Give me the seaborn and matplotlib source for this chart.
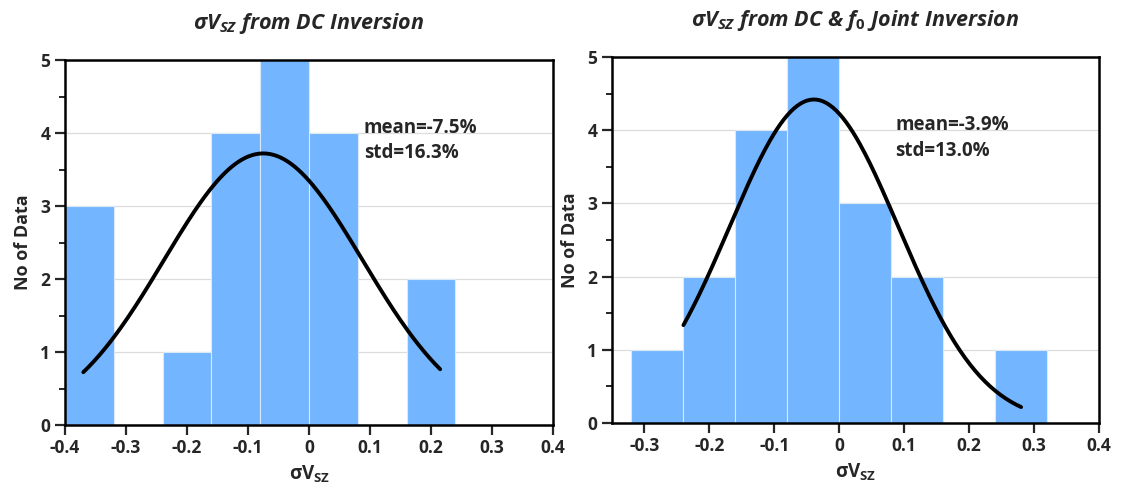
import numpy as np
import pandas as pd
import matplotlib
matplotlib.use("Agg")
import matplotlib.pyplot as plt
import seaborn as sns
from matplotlib.ticker import MultipleLocator

# ---- data ----
left_edges = [-0.40, -0.32, -0.24, -0.16, -0.08, 0.00, 0.08, 0.16, 0.24]
left_counts = [3, 0, 1, 4, 5, 4, 0, 2]
left_mean, left_std = -0.075, 0.163
left_curve_range = (-0.37, 0.215)

right_edges = [-0.32, -0.24, -0.16, -0.08, 0.00, 0.08, 0.16, 0.24, 0.32]
right_counts = [1, 2, 4, 5, 3, 2, 0, 1]
right_mean, right_std = -0.039, 0.130
right_curve_range = (-0.24, 0.28)

left_xticks = [-0.4, -0.3, -0.2, -0.1, 0, 0.1, 0.2, 0.3, 0.4]
left_xticklabels = ["-0.4", "-0.3", "-0.2", "-0.1", "0", "0.1", "0.2", "0.3", "0.4"]
right_xticks = [-0.3, -0.2, -0.1, 0, 0.1, 0.2, 0.3, 0.4]
right_xticklabels = ["-0.3", "-0.2", "-0.1", "0", "0.1", "0.2", "0.3", "0.4"]

sns.set_style("white")
plt.rcParams['font.family'] = ['Open Sans', 'DejaVu Sans']
plt.rcParams['font.weight'] = 'bold'
plt.rcParams['mathtext.fontset'] = 'custom'
plt.rcParams['mathtext.rm'] = 'Open Sans:bold'
plt.rcParams['mathtext.it'] = 'Open Sans:italic:bold'
plt.rcParams['mathtext.bf'] = 'Open Sans:bold'

fig = plt.figure(figsize=(11.21, 4.93), dpi=100)
W, H = 1121, 493
ax1 = fig.add_axes([65 / W, 1 - 425 / H, (553 - 65) / W, (425 - 60) / H])
ax2 = fig.add_axes([612 / W, 1 - 423 / H, (1099 - 612) / W, (423 - 57) / H])

bar_color = "#74B5FF"


def draw(ax, edges, counts, mean, std, crange, xlim, xticks, xticklabels, title, txt_xy):
    e = np.array(edges)
    centers = (e[:-1] + e[1:]) / 2
    df = pd.DataFrame({"x": centers, "w": counts})
    ax.yaxis.grid(True, color="#dcdcdc", linewidth=0.9, zorder=0)
    ax.set_axisbelow(True)
    sns.histplot(data=df, x="x", weights="w", bins=list(edges), ax=ax,
                 color=bar_color, alpha=1.0, edgecolor="#dbe9f7", linewidth=0.8)
    n = sum(counts)
    bw = e[1] - e[0]
    xs = np.linspace(crange[0], crange[1], 200)
    ys = n * bw / (std * np.sqrt(2 * np.pi)) * np.exp(-0.5 * ((xs - mean) / std) ** 2)
    sns.lineplot(x=xs, y=ys, ax=ax, color="black", linewidth=2.8, zorder=3)
    ax.set_xticks(xticks)
    ax.set_xticklabels(xticklabels)
    ax.set_xlim(*xlim)
    ax.set_yticks([0, 1, 2, 3, 4, 5])
    ax.set_ylim(0, 5)
    ax.yaxis.set_minor_locator(MultipleLocator(0.5))
    ax.tick_params(axis="both", which="major", direction="out", length=7, width=1.6,
                   labelsize=12.5, bottom=True, left=True)
    ax.tick_params(axis="x", which="major", pad=3)
    ax.tick_params(axis="y", which="minor", direction="out", length=4, width=1.4, left=True)
    for lab in ax.get_xticklabels() + ax.get_yticklabels():
        lab.set_fontweight("bold")
    for s in ax.spines.values():
        s.set_color("black")
        s.set_linewidth(1.8)
    ax.set_xlabel(r"σV$_\mathrm{SZ}$", fontsize=13.5, fontweight="bold", labelpad=5)
    ax.set_ylabel("No of Data", fontsize=13, fontweight="bold", labelpad=6)
    ax.set_title(title, fontsize=15.5, fontweight="bold", fontstyle="italic", pad=22)
    ax.text(txt_xy[0], txt_xy[1], "mean=%.1f%%" % (mean * 100),
            fontsize=13.5, fontweight="bold", va="center", ha="left", zorder=4)
    ax.text(txt_xy[0], txt_xy[1] - 0.35, "std=%.1f%%" % (std * 100),
            fontsize=13.5, fontweight="bold", va="center", ha="left", zorder=4)


draw(ax1, left_edges, left_counts, left_mean, left_std, left_curve_range, (-0.4, 0.4),
     left_xticks, left_xticklabels,
     r"σV$_\mathit{SZ}$ from DC Inversion", (0.09, 4.07))
draw(ax2, right_edges, right_counts, right_mean, right_std, right_curve_range, (-0.35, 0.4),
     right_xticks, right_xticklabels,
     r"σV$_\mathit{SZ}$ from DC & $\mathit{f_0}$ Joint Inversion", (0.086, 4.07))

fig.savefig("out.png", dpi=100)
